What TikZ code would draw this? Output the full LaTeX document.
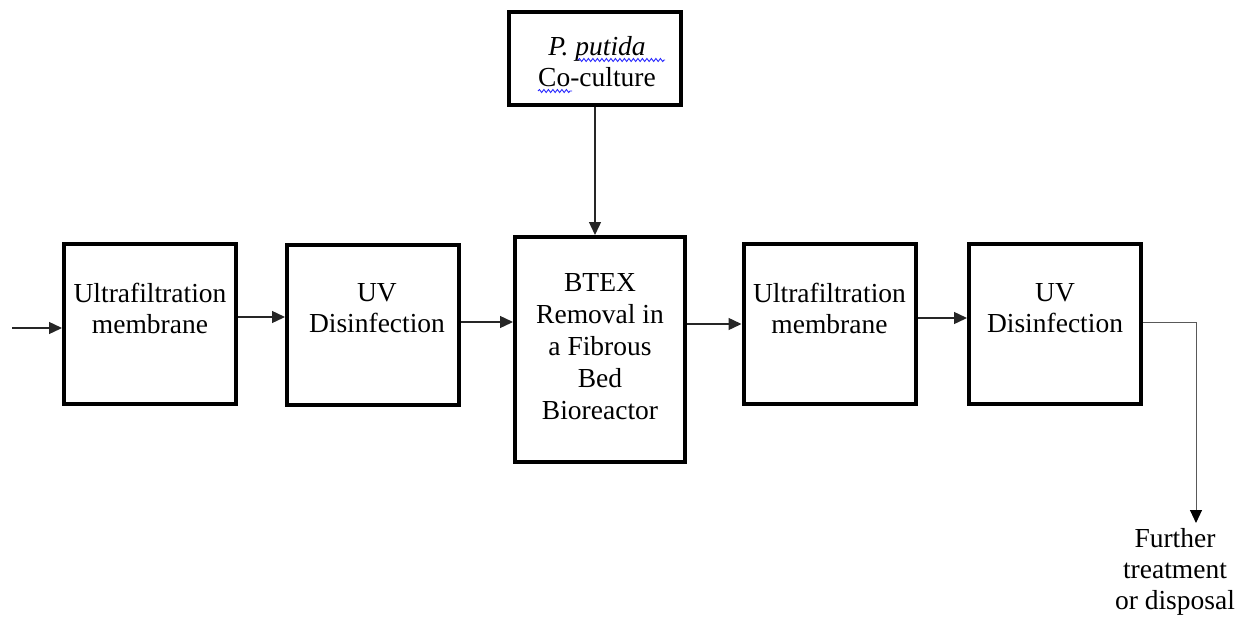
\documentclass[tikz,border=0pt]{standalone}
\usepackage{fontspec}
\setmainfont{Liberation Serif}
\usetikzlibrary{arrows.meta,decorations.pathmorphing}

\begin{document}
\begin{tikzpicture}[
  x=1pt, y=-1pt,
  stagebox/.style={draw=black, line width=4pt, inner sep=0pt,
    minimum width=172pt, minimum height=160pt},
  stagetext/.style={font=\fontsize{27.5}{31}\selectfont, align=center,
    inner sep=0pt, anchor=north},
  flow/.style={draw=black!85, line width=1.4pt,
    -{Triangle[length=13pt,width=12pt]}},
  outflow/.style={draw=black!65, line width=1pt,
    -{Triangle[length=13pt,width=12pt,color=black,fill=black]}},
  spell/.style={draw=blue!85, line width=0.9pt, decorate,
    decoration={snake, amplitude=1.5pt, segment length=4.5pt}}
]
\useasboundingbox (0,0) rectangle (1245,618);

% process stages
\node[stagebox] (b1) at (150,323.5) {};
\node[stagebox] (b2) at (373,324.5) {};
\node[stagebox, minimum width=170pt, minimum height=225pt] (b3) at (600,349.5) {};
\node[stagebox] (b4) at (829.5,324) {};
\node[stagebox] (b5) at (1055,324) {};
\node[stagebox, minimum height=93pt] (co) at (595,58.5) {};

% stage labels
\node[stagetext] (t1) at (150,283) {Ultrafiltration\\membrane};
\node[stagetext] (t2) at (377,283) {UV\\Disinfection};
\node[stagetext, font=\fontsize{27.5}{32}\selectfont] (t3) at (600,273) {BTEX\\Removal in\\a Fibrous\\Bed\\Bioreactor};
\node[stagetext] (t4) at (829.5,283) {Ultrafiltration\\membrane};
\node[stagetext] (t5) at (1055,283) {UV\\Disinfection};
\node[stagetext] (tco) at (597,36) {\textit{P. putida}\\Co-culture};
\node[stagetext] (out) at (1175,528) {Further\\treatment\\or disposal};

% spell-check marks
\draw[spell] (578,60) -- (665,60);
\draw[spell] (538,91) -- (572,91);

% flow connectors
\coordinate (inStart) at (12,328);
\coordinate (outEnd) at (1196,523);
\draw[flow] (inStart) -- (b1.west |- inStart);
\draw[flow] (b1.east |- 0,317) -- (b2.west |- 0,317);
\draw[flow] (b2.east |- 0,322) -- (b3.west |- 0,322);
\draw[flow] (b3.east |- 0,324) -- (b4.west |- 0,324);
\draw[flow] (b4.east |- 0,318) -- (b5.west |- 0,318);
\draw[flow] (co.south) -- (co.south |- b3.north);
\draw[outflow] (b5.east |- 0,322) -| (outEnd);
\end{tikzpicture}
\end{document}
